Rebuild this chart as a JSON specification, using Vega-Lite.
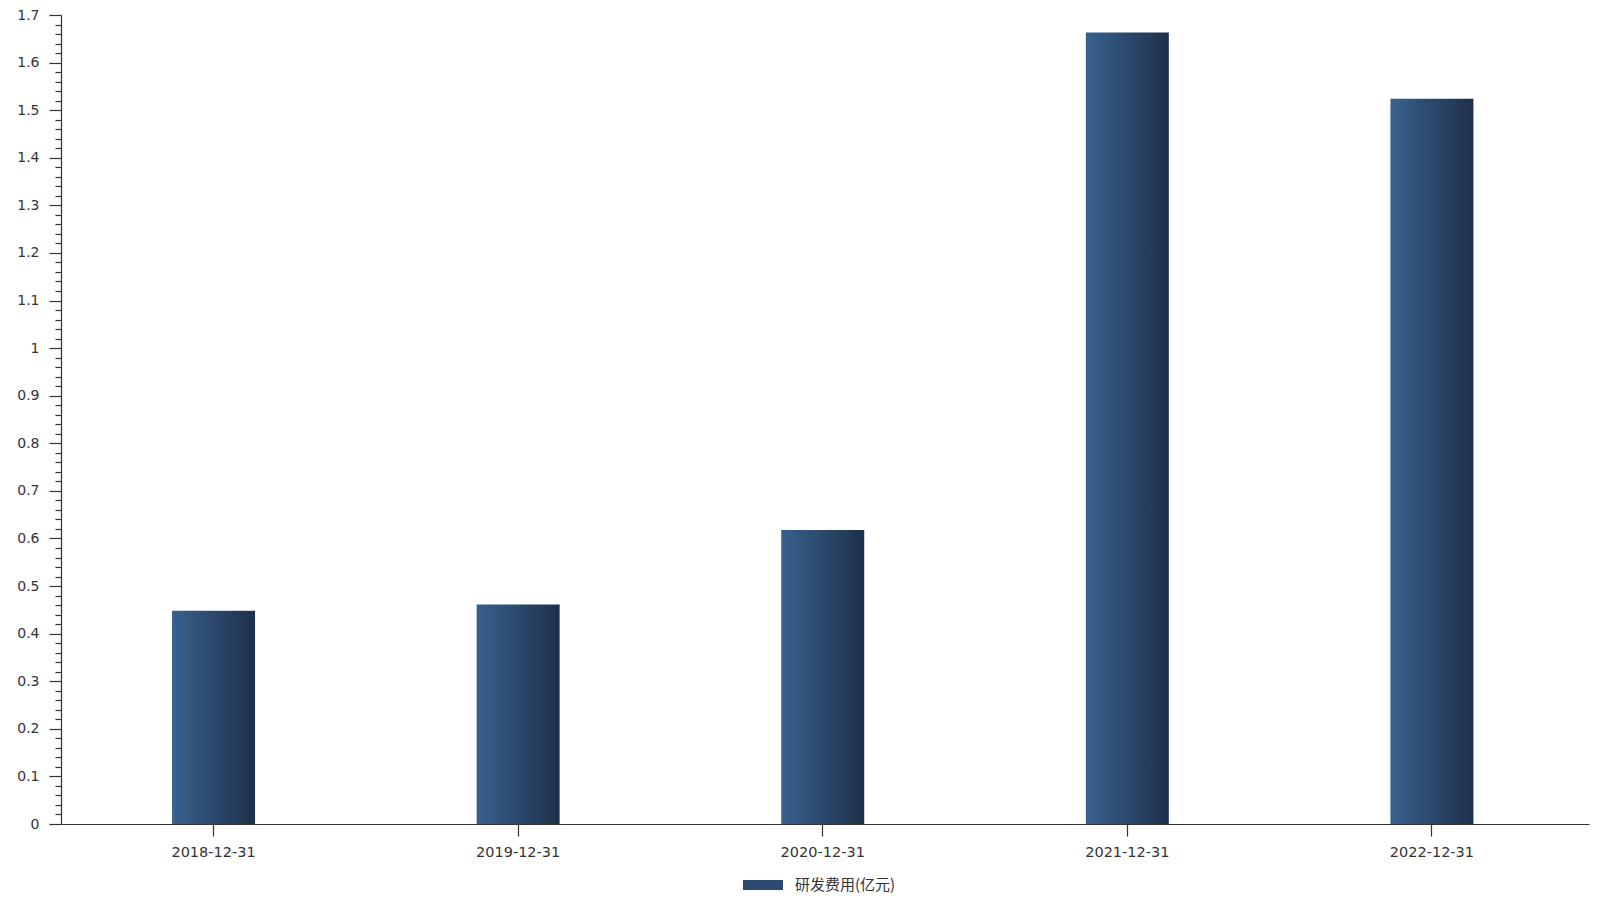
{
  "$schema": "https://vega.github.io/schema/vega-lite/v6.json",
  "autosize": {"type": "none"},
  "width": 1528,
  "height": 809,
  "padding": {"left": 61, "top": 15, "right": 25, "bottom": 91},
  "background": "white",
  "config": {
    "view": {"stroke": null},
    "font": "DejaVu Sans",
    "axis": {"labelFont": "DejaVu Sans", "labelColor": "#333", "domainColor": "#333", "tickColor": "#333", "grid": false, "title": null}
  },
  "data": {
    "values": [
      {"date": "2018-12-31", "value": 0.448, "series": "研发费用(亿元)"},
      {"date": "2019-12-31", "value": 0.461, "series": "研发费用(亿元)"},
      {"date": "2020-12-31", "value": 0.618, "series": "研发费用(亿元)"},
      {"date": "2021-12-31", "value": 1.663, "series": "研发费用(亿元)"},
      {"date": "2022-12-31", "value": 1.524, "series": "研发费用(亿元)"}
    ]
  },
  "encoding": {
    "x": {
      "field": "date", "type": "nominal", "sort": null,
      "scale": {"paddingInner": 0.7275, "paddingOuter": 0.372, "align": 0.49},
      "axis": {"labelAngle": 0, "tickSize": 12, "labelPadding": 9, "labelFontSize": 14.5, "domainWidth": 1.2, "tickWidth": 1.2}
    },
    "y": {
      "field": "value", "type": "quantitative",
      "scale": {"domain": [0, 1.7], "nice": false},
      "axis": {
        "tickCount": 85,
        "labelOverlap": false,
        "labelFontSize": 14,
        "labelPadding": 10,
        "domainWidth": 1.2,
        "tickWidth": 1.2,
        "tickSize": {"condition": {"test": "abs(datum.value*10 - round(datum.value*10)) < 0.001", "value": 12}, "value": 6},
        "labelExpr": "abs(datum.value*10 - round(datum.value*10)) < 0.001 ? toString(round(datum.value*10)/10) : ''"
      }
    }
  },
  "layer": [
    {
      "mark": {
        "type": "bar",
        "color": {
          "gradient": "linear", "x1": 0, "y1": 0, "x2": 1, "y2": 0,
          "stops": [{"offset": 0, "color": "#38618f"}, {"offset": 1, "color": "#1f3049"}]
        }
      }
    },
    {
      "mark": {"type": "bar", "opacity": 0},
      "encoding": {
        "color": {
          "field": "series", "type": "nominal",
          "scale": {"range": ["#2c4a70"]},
          "legend": {
            "title": null,
            "orient": "none",
            "legendX": 682,
            "legendY": 850,
            "padding": 0,
            "direction": "horizontal",
            "symbolType": "M-1,-0.25H1V0.25H-1Z",
            "symbolSize": 1600,
            "symbolOpacity": 1,
            "symbolStrokeWidth": 0,
            "labelFont": "Noto Sans CJK SC",
            "labelFontSize": 15,
            "labelColor": "#333",
            "labelOffset": 12,
            "encode": {
              "symbols": {"update": {"fill": {"value": {"gradient": "linear", "x1": 0, "y1": 0, "x2": 1, "y2": 0, "stops": [{"offset": 0, "color": "#38618f"}, {"offset": 1, "color": "#1f3049"}]}}, "opacity": {"value": 1}, "fillOpacity": {"value": 1}}}
            }
          }
        }
      }
    }
  ]
}
